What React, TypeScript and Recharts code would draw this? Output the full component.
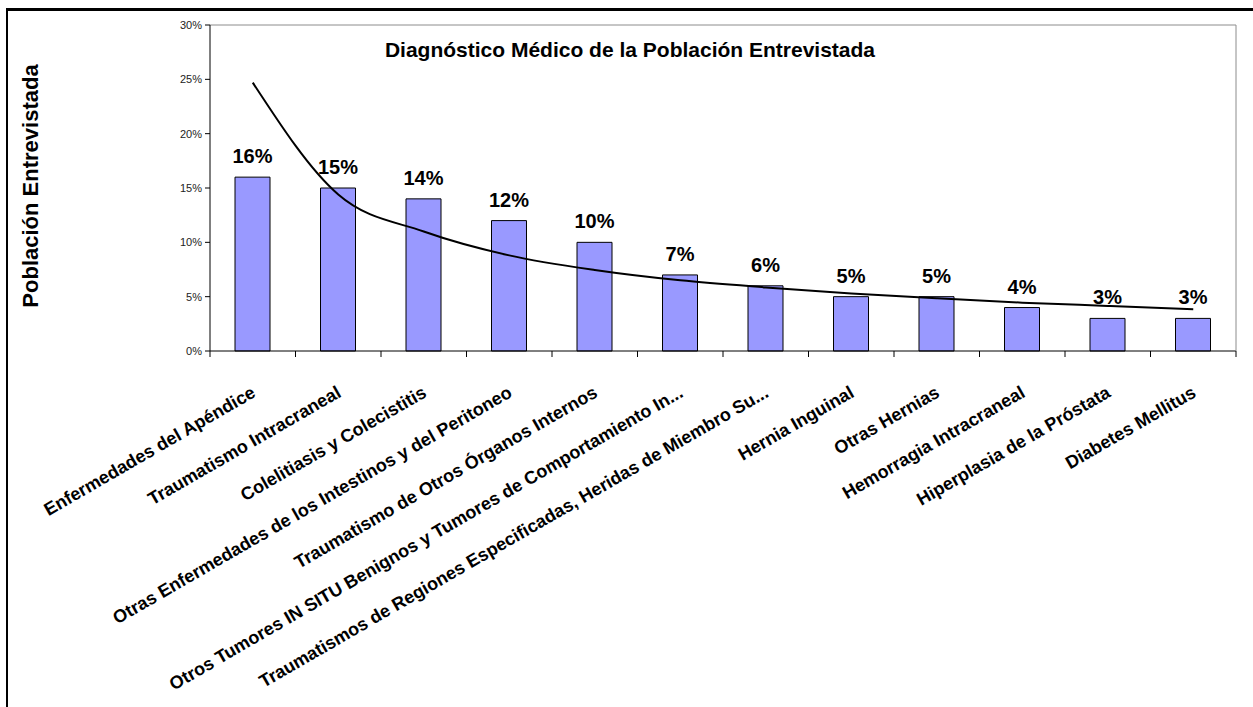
import React from "react";
import {
  ComposedChart,
  Bar,
  Line,
  XAxis,
  YAxis,
  LabelList,
  ReferenceLine,
} from "recharts";

// categorías del eje X
const categories = [
  "Enfermedades del Apéndice",
  "Traumatismo Intracraneal",
  "Colelitiasis y Colecistitis",
  "Otras Enfermedades de los Intestinos y del Peritoneo",
  "Traumatismo de Otros Órganos Internos",
  "Otros Tumores IN SITU Benignos y Tumores de Comportamiento In...",
  "Traumatismos de Regiones Especificadas, Heridas de Miembro Su...",
  "Hernia Inguinal",
  "Otras Hernias",
  "Hemorragia Intracraneal",
  "Hiperplasia de la Próstata",
  "Diabetes Mellitus",
];

// porcentaje de la población entrevistada
const values = [16, 15, 14, 12, 10, 7, 6, 5, 5, 4, 3, 3];

// línea de tendencia
const trend = [24.7, 14.4, 11.0, 8.8, 7.45, 6.5, 5.85, 5.3, 4.85, 4.45, 4.15, 3.85];

const yTicks = [0, 5, 10, 15, 20, 25, 30];

const data = categories.map((name, i) => ({
  name,
  value: values[i],
  trend: trend[i],
}));

const W = 1253;
const H = 707;
const PLOT_LEFT = 210;
const PLOT_RIGHT = 1236;
const PLOT_TOP = 25;
const PLOT_BOTTOM = 351;
const BAND = (PLOT_RIGHT - PLOT_LEFT) / categories.length;
const FONT = "'Liberation Sans', Arial, Helvetica, sans-serif";

const XTick = (props: any) => {
  const { x, y, payload, index } = props;
  const half = BAND / 2;
  const tx = x + 4;
  const ty = y + 45;
  return (
    <g>
      <line x1={x - half} x2={x - half} y1={y} y2={y + 6} stroke="#000" />
      {index === categories.length - 1 && (
        <line x1={x + half} x2={x + half} y1={y} y2={y + 6} stroke="#000" />
      )}
      <text
        x={tx}
        y={ty}
        textAnchor="end"
        transform={`rotate(-30, ${tx}, ${ty})`}
        fontSize={18}
        fontWeight="bold"
        fontFamily={FONT}
        fill="#000"
      >
        {payload.value}
      </text>
    </g>
  );
};

export default function App() {
  return (
    <div
      style={{
        position: "fixed",
        left: 0,
        top: 0,
        width: W,
        height: H,
        overflow: "hidden",
        background: "#fff",
        fontFamily: FONT,
      }}
    >
      {/* marco exterior */}
      <div
        style={{
          position: "absolute",
          left: 6,
          top: 8,
          width: W + 20,
          height: H + 20,
          borderTop: "3px solid #000",
          borderLeft: "2px solid #000",
        }}
      />

      <div
        style={{
          position: "absolute",
          left: 0,
          width: 1260,
          top: 39,
          textAlign: "center",
          fontSize: 21,
          lineHeight: "21px",
          fontWeight: "bold",
          zIndex: 2,
        }}
      >
        Diagnóstico Médico de la Población Entrevistada
      </div>

      <div
        style={{
          position: "absolute",
          left: 31,
          top: 186,
          transform: "translate(-50%, -50%) rotate(-90deg)",
          whiteSpace: "nowrap",
          fontSize: 22,
          lineHeight: "22px",
          fontWeight: "bold",
          zIndex: 2,
        }}
      >
        Población Entrevistada
      </div>

      <div style={{ position: "absolute", left: 0, top: 0 }}>
        <ComposedChart
          width={W}
          height={H}
          data={data}
          margin={{ top: PLOT_TOP, right: W - PLOT_RIGHT - 1, bottom: H - PLOT_BOTTOM - 40, left: PLOT_LEFT - 60 }}
        >
          <XAxis
            dataKey="name"
            height={40}
            interval={0}
            tickLine={false}
            tickSize={0}
            tickMargin={0}
            tick={<XTick />}
            axisLine={{ stroke: "#000" }}
          />
          <YAxis
            yAxisId="left"
            width={60}
            domain={[0, 30]}
            ticks={yTicks}
            tickFormatter={(v: number) => `${v}%`}
            tickSize={5}
            tickMargin={3}
            tick={{ fontSize: 11, fill: "#222", fontFamily: FONT }}
            tickLine={{ stroke: "#000" }}
            axisLine={{ stroke: "#000" }}
          />
          <YAxis
            yAxisId="right"
            orientation="right"
            width={1}
            domain={[0, 30]}
            tick={false}
            tickLine={false}
            axisLine={{ stroke: "#8c8c8c" }}
          />
          <ReferenceLine yAxisId="left" y={30} stroke="#8c8c8c" />
          <Bar
            yAxisId="left"
            dataKey="value"
            fill="#9999FF"
            stroke="#000"
            strokeWidth={1}
            barSize={35}
            isAnimationActive={false}
          >
            <LabelList
              dataKey="value"
              position="top"
              offset={14}
              formatter={(v: any) => `${v}%`}
              style={{ fontSize: 20, fontWeight: "bold", fill: "#000", fontFamily: FONT }}
            />
          </Bar>
          <Line
            yAxisId="left"
            dataKey="trend"
            type="monotone"
            stroke="#000"
            strokeWidth={2}
            dot={false}
            activeDot={false}
            isAnimationActive={false}
          />
        </ComposedChart>
      </div>
    </div>
  );
}
